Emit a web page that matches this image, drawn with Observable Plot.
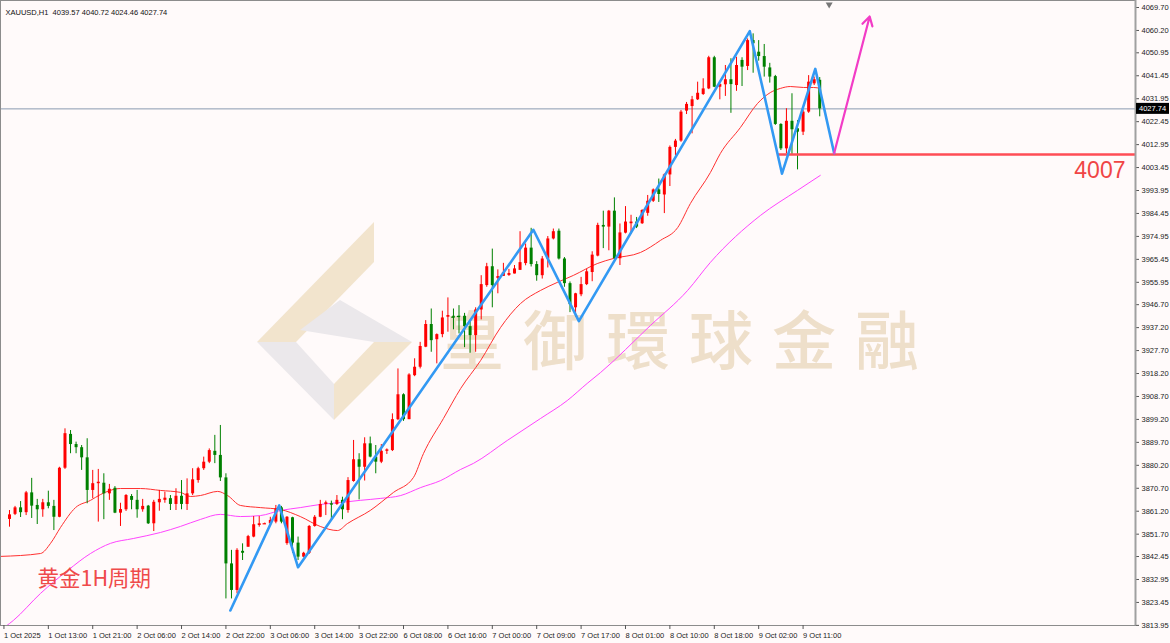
<!DOCTYPE html>
<html>
<head>
<meta charset="utf-8">
<script src="https://cdn.jsdelivr.net/npm/d3@7"></script>
<script src="https://cdn.jsdelivr.net/npm/@observablehq/plot@0.6"></script>
<style>
  html, body { margin: 0; padding: 0; background: #fffafa; }
  #wrap { position: relative; width: 1170px; height: 643px; overflow: hidden; }
  #wm { position: absolute; left: 0; top: 0; }
  #chart { position: absolute; left: 0; top: 0; }
</style>
</head>
<body>
<div id="wrap">
  <svg id="wm" width="1170" height="643">
    <polygon points="374,222 374,262 296,342 257,342" fill="#f2e4cd"/>
    <polygon points="257,342 296,342 334,384 334,420" fill="#ebe8eb"/>
    <polygon points="300,330 340,300 412,342 374,342" fill="#ebe8eb"/>
    <polygon points="334,420 334,384 374,342 412,342" fill="#f2e4cd"/>
    <text x="440" y="364" font-family="Noto Sans CJK TC" font-size="64" font-weight="500" letter-spacing="19" fill="#eedfca">皇御環球金融</text>
  </svg>
  <div id="chart"></div>
</div>
<script>
// ---- Candles (XAUUSD H1), bar index 0..146 ----
const opens = [
3857.8,3859.9,3862.6,3860.6,3868.8,3863.6,3861.8,3864.7,3863.2,3858.7,
3879.0,3893.0,3888.8,3887.5,3883.3,3869.8,3872.6,3872.8,3868.4,3870.7,
3860.4,3861.8,3867.3,3865.7,3861.8,3863.3,3856.0,3864.7,3865.7,3866.4,
3864.0,3867.4,3864.0,3868.4,3873.9,3878.8,3881.5,3886.0,3884.3,3875.0,
3839.4,3828.4,3844.6,3846.3,3850.5,3855.3,3856.0,3856.0,3856.7,3862.6,
3847.8,3858.5,3848.0,3842.2,3843.8,3854.9,3858.7,3864.0,3864.3,3864.0,
3865.7,3861.5,3873.5,3882.5,3879.4,3889.1,3883.6,3881.5,3886.0,3886.3,
3899.1,3909.4,3899.1,3917.3,3920.8,3929.1,3938.5,3932.2,3934.3,3941.5,
3941.9,3941.9,3941.9,3937.6,3933.9,3944.5,3954.6,3962.4,3957.6,3958.4,
3958.8,3959.4,3960.9,3963.7,3970.1,3963.3,3958.7,3965.6,3973.9,3977.1,
3965.6,3955.4,3945.4,3950.8,3955.0,3960.0,3966.8,3979.5,3978.8,3985.4,
3965.7,3976.3,3980.2,3980.9,3980.2,3984.5,3989.5,3994.2,3992.1,4000.4,
4011.8,4014.4,4026.8,4028.7,4031.5,4033.7,4036.0,4048.9,4036.7,4037.7,
4039.8,4037.4,4047.8,4045.3,4056.0,4051.2,4049.4,4044.7,4041.1,4021.3,
4011.2,4022.6,4019.5,4018.1,4026.4,4038.1,4039.57];
const highs = [
3861.5,3863.2,3865.2,3869.4,3874.8,3866.1,3866.1,3869.5,3865.7,3879.4,
3895.3,3894.6,3889.8,3888.4,3891.2,3878.1,3878.5,3876.7,3872.3,3871.4,
3864.5,3868.1,3868.1,3869.8,3866.1,3863.6,3865.7,3869.8,3869.1,3867.7,
3870.5,3873.9,3874.6,3878.8,3879.4,3883.6,3887.0,3892.6,3896.7,3876.7,
3845.0,3845.7,3847.7,3851.2,3859.0,3859.0,3856.3,3858.7,3863.6,3863.2,
3859.0,3858.7,3850.5,3844.2,3855.3,3859.4,3865.7,3865.4,3865.4,3867.7,
3867.0,3875.1,3890.5,3885.0,3891.6,3891.9,3888.4,3888.8,3887.0,3901.5,
3920.1,3909.8,3918.1,3924.3,3931.1,3940.1,3944.9,3934.6,3944.0,3949.5,
3944.9,3946.3,3943.1,3940.1,3945.4,3958.7,3963.8,3969.7,3961.1,3963.8,
3961.3,3962.9,3976.9,3971.8,3978.3,3964.5,3966.6,3974.9,3978.0,3978.0,
3966.2,3956.1,3951.4,3958.0,3961.3,3968.6,3980.4,3985.4,3985.7,3990.9,
3980.1,3987.3,3983.7,3982.8,3986.0,3991.9,3994.6,3998.7,4000.8,4012.4,
4015.1,4027.1,4030.4,4032.9,4038.8,4040.2,4049.5,4049.5,4038.1,4045.7,
4048.5,4049.1,4048.9,4056.7,4058.8,4056.0,4054.4,4046.6,4041.6,4021.6,
4027.8,4034.0,4022.9,4027.1,4041.5,4040.9,4040.72];
const lows = [
3854.6,3859.4,3858.6,3859.4,3858.2,3855.7,3858.7,3862.2,3853.2,3858.5,
3878.5,3885.0,3885.0,3878.1,3864.3,3866.4,3856.7,3857.7,3865.7,3860.2,
3854.9,3861.1,3861.8,3858.3,3860.8,3855.7,3852.8,3861.2,3864.5,3861.5,
3861.5,3861.8,3861.5,3867.7,3872.8,3878.1,3880.9,3880.9,3873.5,3824.9,
3824.9,3827.0,3840.8,3846.3,3850.2,3854.6,3855.8,3856.0,3856.0,3856.0,
3847.1,3843.8,3840.8,3841.9,3843.3,3854.6,3858.5,3859.4,3857.7,3863.6,
3857.7,3860.4,3873.2,3865.9,3873.7,3883.3,3876.7,3880.9,3884.7,3885.9,
3898.7,3898.4,3899.1,3916.9,3920.1,3928.9,3927.0,3922.2,3933.0,3935.3,
3936.3,3934.6,3928.9,3926.6,3927.0,3940.4,3953.9,3945.4,3951.2,3958.4,
3958.4,3959.4,3960.9,3962.8,3962.3,3956.4,3957.3,3961.9,3973.5,3965.2,
3953.9,3943.4,3941.5,3950.0,3954.6,3956.2,3966.5,3969.9,3969.0,3965.3,
3962.9,3976.0,3975.8,3978.2,3979.9,3983.3,3989.0,3989.0,3984.4,3995.6,
4008.4,4013.9,4025.4,4017.4,4031.2,4033.3,4035.7,4036.5,4031.5,4032.9,
4025.9,4035.0,4037.0,4043.6,4042.5,4047.5,4040.9,4038.4,4020.9,4010.5,
4009.1,4008.4,4002.5,4016.7,4025.9,4037.4,4024.46];
const closes = [
3859.7,3862.6,3860.6,3868.8,3863.3,3861.8,3864.7,3863.2,3858.7,3879.0,
3893.3,3888.8,3887.5,3883.3,3869.8,3872.6,3873.2,3868.4,3870.3,3860.4,
3861.9,3867.7,3865.7,3861.8,3863.2,3856.0,3864.9,3866.1,3866.6,3864.0,
3867.4,3864.0,3868.4,3874.2,3878.8,3881.5,3886.3,3884.3,3875.0,3839.4,
3828.4,3845.0,3843.8,3850.7,3855.6,3856.0,3856.0,3857.4,3862.2,3856.7,
3858.7,3848.0,3842.2,3843.8,3854.9,3858.7,3864.0,3864.7,3863.7,3865.7,
3861.8,3873.9,3882.5,3879.4,3889.1,3883.6,3881.5,3886.0,3886.6,3899.1,
3909.4,3899.1,3917.6,3920.8,3929.4,3938.5,3931.8,3934.3,3941.2,3942.2,
3941.5,3941.8,3937.6,3933.9,3944.5,3955.0,3962.4,3954.6,3958.3,3960.0,
3959.6,3961.5,3964.1,3970.1,3963.3,3958.7,3965.6,3973.9,3976.9,3965.6,
3955.4,3946.7,3951.2,3955.0,3960.3,3967.2,3979.5,3978.8,3985.4,3965.7,
3976.4,3980.9,3980.9,3978.8,3985.7,3989.5,3994.2,3992.3,4000.4,4011.8,
4014.4,4026.4,4029.6,4031.5,4034.2,4036.0,4048.9,4036.7,4037.8,4039.8,
4037.8,4045.7,4045.0,4056.0,4054.7,4049.4,4045.0,4040.9,4021.3,4011.2,
4022.6,4019.1,4018.1,4026.4,4038.8,4039.8,4027.74];

// ---- Moving averages (bar index, price) ----
const maFastBar   = [-1.6,5.6,7.4,9.2,11.9,14.6,16.4,20.0,23.6,27.2,30.8,32.6,34.4,37.5,39.3,41.6,45.2,48.8,52.4,56.0,59.1,60.9,65.0,69.2,72.8,74.6,78.2,81.3,84.9,88.5,92.1,95.7,98.7,101.6,105.9,108.8,113.7,117.3,120.4,122.7,126.3,128.1,131.7,134.8,137.1,138.9,140.7,143.1,144.9,146.1];
const maFastPrice = [3842.5,3843.7,3847.9,3854.5,3862.7,3865.7,3868.1,3870.6,3870.6,3869.8,3869.0,3867.3,3867.7,3869.4,3867.7,3863.6,3862.7,3861.9,3859.0,3854.9,3853.2,3856.1,3861.5,3869.0,3875.2,3885.1,3899.6,3912.0,3923.6,3937.3,3947.2,3952.6,3955.9,3958.8,3963.7,3965.8,3968.3,3973.3,3978.6,3988.6,4001.4,4009.3,4020.0,4030.0,4034.5,4036.2,4037.0,4036.6,4036.6,4036.2];
const maSlowBar   = [-0.7,0.7,5.6,10.5,14.6,18.2,22.3,27.2,30.8,34.4,38.0,41.6,45.2,48.8,52.4,56.0,59.6,63.2,66.8,70.5,74.1,77.7,81.3,83.6,89.7,95.7,100.5,104.1,106.5,115.5,122.2,126.3,135.3,142.0,146.1];
const maSlowPrice = [3813.5,3816.0,3827.2,3836.7,3843.7,3847.9,3849.9,3852.4,3854.9,3857.8,3859.9,3859.0,3859.4,3861.5,3862.7,3864.0,3864.8,3865.7,3866.5,3867.7,3871.0,3873.9,3878.5,3881.0,3890.5,3899.6,3907.0,3914.1,3918.6,3938.1,3952.6,3964.2,3983.6,3994.0,4000.2];

// ---- Hand-drawn annotations ----
const zigBar   = [39.8, 48.6, 52.0, 94.4, 102.6, 133.4, 139.2, 145.2, 148.6];
const zigPrice = [3820.1, 3863.6, 3838.0, 3977.7, 3939.9, 4059.9, 4000.9, 4044.3, 4009.4];
const arrowBar = [148.6, 155.0];
const arrowPrice = [4009.4, 4066.0];
const supportLevel = 4008.9;
const supportFromBar = 138.4;
const supportLabel = "4007";
const periodLabel = "黄金1H周期";
const header = "XAUUSD,H1  4039.57 4040.72 4024.46 4027.74";
const lastPrice = 4027.74;
const shiftMarkerBar = 147.7;

// ---- Axes ----
const timeTickBars = [-1,7,15,23,31,39,47,55,63,71,79,87,95,103,111,119,127,135,143];
const timeTickLabels = ["1 Oct 2025","1 Oct 13:00","1 Oct 21:00","2 Oct 06:00","2 Oct 14:00","2 Oct 22:00","3 Oct 06:00","3 Oct 14:00","3 Oct 22:00","6 Oct 08:00","6 Oct 16:00","7 Oct 00:00","7 Oct 09:00","7 Oct 17:00","8 Oct 01:00","8 Oct 10:00","8 Oct 18:00","9 Oct 02:00","9 Oct 11:00"];
const priceTicks = [4069.70,4060.20,4050.95,4041.45,4031.95,4022.45,4012.95,4003.45,3993.95,3984.45,3974.95,3965.45,3955.95,3946.70,3937.20,3927.70,3918.20,3908.70,3899.20,3889.70,3880.20,3870.70,3861.20,3851.70,3842.45,3832.95,3823.45,3813.95];

const bars = opens.map((o, i) => ({i, open: o, high: highs[i], low: lows[i], close: closes[i]}));
const up = d => d.close >= d.open;
const colorOf = d => up(d) ? "#ff0000" : "#008000";
const dojis = bars.filter(d => Math.abs(d.close - d.open) < 0.5);
const maFast = maFastBar.map((b, k) => ({b, p: maFastPrice[k]}));
const maSlow = maSlowBar.map((b, k) => ({b, p: maSlowPrice[k]}));
const zig = zigBar.map((b, k) => ({b, p: zigPrice[k]}));

const priceTag = (index, scales, values, dims) => {
  const g = d3.create("svg:g");
  const y = scales.y(lastPrice);
  const x0 = dims.width - dims.marginRight + 1;
  g.append("rect").attr("x", x0).attr("y", y - 5.5).attr("width", 33).attr("height", 11).attr("fill", "#000");
  g.append("text").attr("x", x0 + 3).attr("y", y + 3).attr("fill", "#fff").attr("text-anchor", "start")
    .attr("font-size", 7.5).attr("font-family", "Liberation Sans").text(lastPrice.toFixed(2));
  return g.node();
};

const chart = Plot.plot({
  width: 1170,
  height: 643,
  marginLeft: 0,
  marginRight: 35,
  marginTop: 0,
  marginBottom: 18,
  style: {background: "transparent", fontFamily: "Liberation Sans", fontSize: "8px", color: "#222"},
  x: {domain: [-1.62, 202.9], axis: null},
  y: {domain: [3813.9, 4072.6], axis: null},
  marks: [
    Plot.ruleY([lastPrice], {stroke: "#8b9bb0", strokeWidth: 1}),
    Plot.line(maSlow, {x: "b", y: "p", stroke: "#ff44ff", strokeWidth: 1, curve: "monotone-x", clip: true}),
    Plot.line(maFast, {x: "b", y: "p", stroke: "#ff3030", strokeWidth: 1, curve: "monotone-x", clip: true}),
    Plot.ruleX(bars, {x: "i", y1: "low", y2: "high", stroke: colorOf, strokeWidth: 1}),
    Plot.ruleX(bars, {x: "i", y1: "open", y2: "close", stroke: colorOf, strokeWidth: 3}),
    Plot.ruleY(dojis, {y: "close", x1: d => d.i - 0.3, x2: d => d.i + 0.3, stroke: colorOf, strokeWidth: 1.2}),
    Plot.ruleY([supportLevel], {x1: supportFromBar, x2: 202.9, stroke: "#ff4d55", strokeWidth: 2.5}),
    Plot.line(zig, {x: "b", y: "p", stroke: "#3399f3", strokeWidth: 2.6}),
    Plot.arrow([0], {x1: arrowBar[0], y1: arrowPrice[0], x2: arrowBar[1], y2: arrowPrice[1], stroke: "#f23cc6", strokeWidth: 2.2, headLength: 7}),
    Plot.text([supportLabel], {frameAnchor: "right", y: supportLevel, dx: -10, dy: 16, textAnchor: "end", text: d => d, fill: "#f04545", fontSize: 23, fontFamily: "Liberation Sans"}),
    Plot.text([periodLabel], {frameAnchor: "bottom-left", dx: 37, dy: -40, textAnchor: "start", text: d => d, fill: "#ef4a4a", fontSize: 21.5, fontFamily: "Noto Sans CJK SC"}),
    Plot.text([header], {frameAnchor: "top-left", dx: 5, dy: 9, textAnchor: "start", text: d => d, fill: "#111", fontSize: 7.5}),
    Plot.frame({stroke: "#8c8c8c", strokeWidth: 1}),
    Plot.dot([shiftMarkerBar], {x: d => d, frameAnchor: "top", dy: 4, symbol: "triangle", rotate: 180, r: 2.6, fill: "#777", stroke: "none"}),
    Plot.axisX({ticks: timeTickBars, tickFormat: (d) => timeTickLabels[timeTickBars.indexOf(d)], textAnchor: "start", tickSize: 4, tickPadding: 3, fontSize: 7.5, stroke: "#555", fill: "#222"}),
    Plot.axisY({anchor: "right", ticks: priceTicks, tickFormat: d => d.toFixed(2), tickSize: 3, tickPadding: 3, fontSize: 7.5, stroke: "#555", fill: "#222"}),
    Plot.ruleX([202.9], {stroke: "#a0a0a0", strokeWidth: 2}),
    priceTag
  ]
});
document.getElementById("chart").appendChild(chart);
</script>
</body>
</html>
